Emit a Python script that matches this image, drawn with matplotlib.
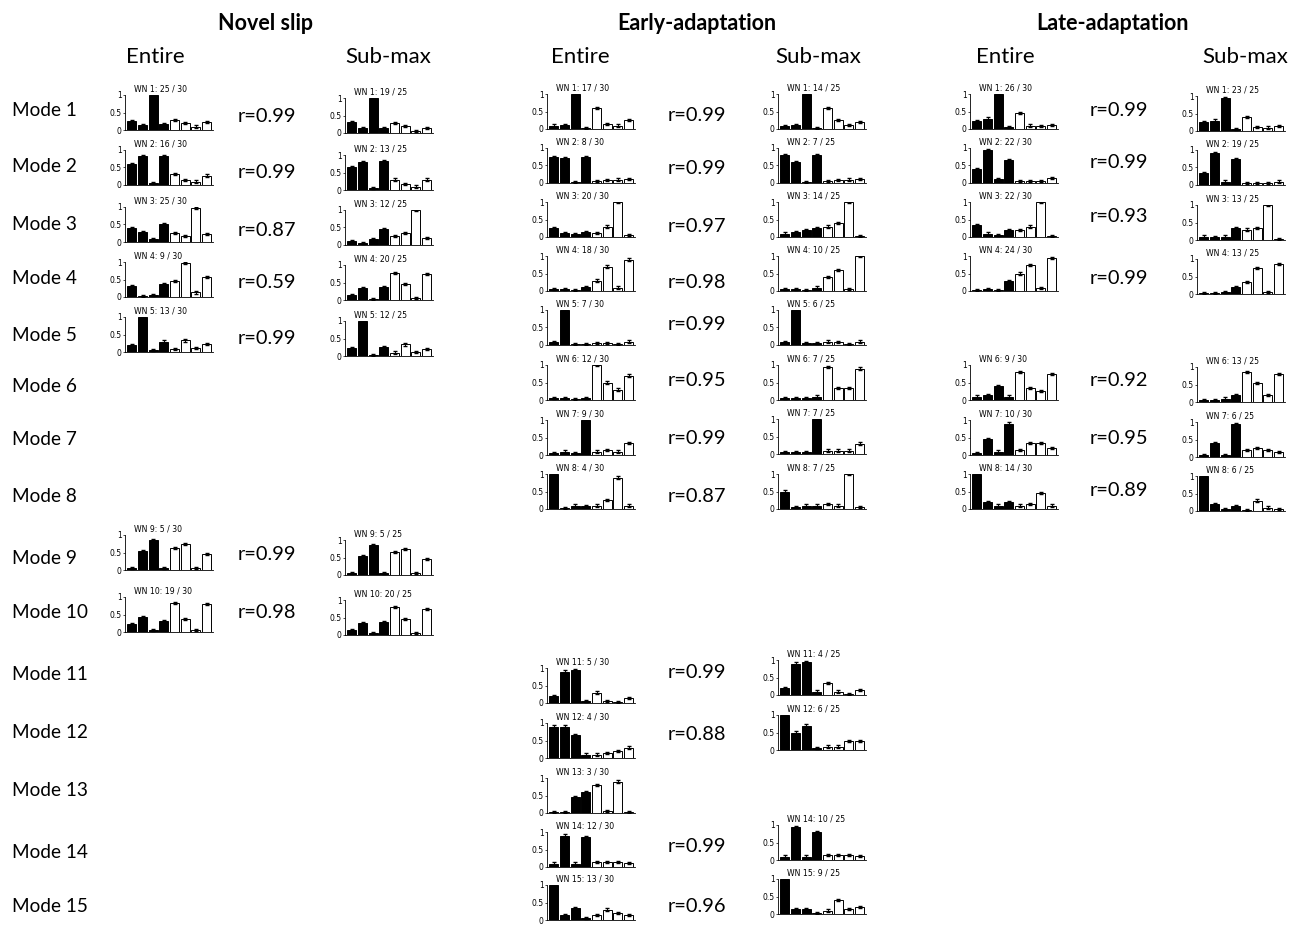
import numpy as np
import matplotlib
matplotlib.use("Agg")
import matplotlib.pyplot as plt

plt.rcParams['font.family'] = ['Lato', 'DejaVu Sans']

W, H = 1292, 925

# ---- data: mode number, "n / N" label, 8 bar heights (4 black, 4 white)
novel_modes = [1, 2, 3, 4, 5, 9, 10]
novel_r = [0.99, 0.99, 0.87, 0.59, 0.99, 0.99, 0.98]
novel_entire_n = ["25 / 30", "16 / 30", "25 / 30", "9 / 30", "13 / 30", "5 / 30", "19 / 30"]
novel_entire = [
    [0.27, 0.15, 1.00, 0.18, 0.28, 0.20, 0.10, 0.22],
    [0.60, 0.82, 0.05, 0.82, 0.32, 0.15, 0.10, 0.27],
    [0.40, 0.28, 0.08, 0.50, 0.25, 0.18, 0.97, 0.22],
    [0.32, 0.03, 0.07, 0.37, 0.47, 0.97, 0.13, 0.58],
    [0.20, 1.00, 0.06, 0.30, 0.08, 0.33, 0.12, 0.23],
    [0.05, 0.55, 0.85, 0.05, 0.62, 0.75, 0.07, 0.47],
    [0.22, 0.42, 0.05, 0.32, 0.82, 0.37, 0.05, 0.80],
]
novel_sub_n = ["19 / 25", "13 / 25", "12 / 25", "20 / 25", "12 / 25", "5 / 25", "20 / 25"]
novel_sub = [
    [0.32, 0.15, 1.00, 0.14, 0.28, 0.20, 0.06, 0.15],
    [0.65, 0.80, 0.05, 0.83, 0.30, 0.17, 0.10, 0.30],
    [0.12, 0.05, 0.17, 0.45, 0.25, 0.33, 1.00, 0.20],
    [0.15, 0.33, 0.04, 0.36, 0.78, 0.45, 0.05, 0.75],
    [0.22, 1.00, 0.04, 0.27, 0.10, 0.33, 0.12, 0.20],
    [0.05, 0.55, 0.85, 0.05, 0.65, 0.75, 0.07, 0.47],
    [0.15, 0.33, 0.05, 0.38, 0.80, 0.45, 0.05, 0.75],
]

early_entire_modes = [1, 2, 3, 4, 5, 6, 7, 8, 11, 12, 13, 14, 15]
early_entire_n = ["17 / 30", "8 / 30", "20 / 30", "18 / 30", "7 / 30", "12 / 30", "9 / 30",
                  "4 / 30", "5 / 30", "4 / 30", "3 / 30", "12 / 30", "13 / 30"]
early_entire = [
    [0.10, 0.12, 1.00, 0.03, 0.60, 0.15, 0.10, 0.25],
    [0.75, 0.70, 0.03, 0.75, 0.05, 0.08, 0.10, 0.12],
    [0.25, 0.12, 0.08, 0.15, 0.12, 0.30, 1.00, 0.05],
    [0.05, 0.05, 0.03, 0.12, 0.30, 0.70, 0.10, 0.90],
    [0.08, 1.00, 0.03, 0.02, 0.05, 0.05, 0.02, 0.10],
    [0.05, 0.05, 0.02, 0.05, 1.00, 0.50, 0.30, 0.70],
    [0.05, 0.10, 0.05, 1.00, 0.10, 0.15, 0.10, 0.35],
    [1.00, 0.02, 0.10, 0.08, 0.10, 0.25, 0.90, 0.10],
    [0.20, 0.90, 0.95, 0.05, 0.30, 0.05, 0.02, 0.15],
    [0.90, 0.90, 0.65, 0.10, 0.10, 0.15, 0.20, 0.30],
    [0.02, 0.02, 0.45, 0.60, 0.80, 0.05, 0.90, 0.02],
    [0.10, 0.90, 0.10, 0.85, 0.15, 0.15, 0.15, 0.12],
    [1.00, 0.15, 0.35, 0.05, 0.15, 0.30, 0.20, 0.15],
]
early_r_modes = [1, 2, 3, 4, 5, 6, 7, 8, 11, 12, 14, 15]
early_r = [0.99, 0.99, 0.97, 0.98, 0.99, 0.95, 0.99, 0.87, 0.99, 0.88, 0.99, 0.96]
early_sub_modes = [1, 2, 3, 4, 5, 6, 7, 8, 11, 12, 14, 15]
early_sub_n = ["14 / 25", "7 / 25", "14 / 25", "10 / 25", "6 / 25", "7 / 25", "7 / 25",
               "7 / 25", "4 / 25", "6 / 25", "10 / 25", "9 / 25"]
early_sub = [
    [0.08, 0.12, 1.00, 0.03, 0.60, 0.25, 0.12, 0.20],
    [0.80, 0.60, 0.03, 0.80, 0.05, 0.08, 0.10, 0.12],
    [0.10, 0.15, 0.20, 0.25, 0.30, 0.40, 1.00, 0.03],
    [0.05, 0.05, 0.03, 0.10, 0.40, 0.60, 0.05, 1.00],
    [0.08, 1.00, 0.05, 0.05, 0.10, 0.08, 0.03, 0.10],
    [0.05, 0.05, 0.05, 0.10, 0.95, 0.35, 0.35, 0.90],
    [0.05, 0.05, 0.05, 1.00, 0.10, 0.10, 0.10, 0.30],
    [0.50, 0.05, 0.10, 0.10, 0.15, 0.10, 1.00, 0.05],
    [0.20, 0.90, 0.95, 0.10, 0.35, 0.10, 0.03, 0.15],
    [1.00, 0.50, 0.70, 0.05, 0.10, 0.10, 0.25, 0.25],
    [0.10, 0.95, 0.10, 0.80, 0.15, 0.15, 0.15, 0.12],
    [1.00, 0.15, 0.15, 0.02, 0.10, 0.40, 0.15, 0.20],
]

late_modes = [1, 2, 3, 4, 6, 7, 8]
late_r = [0.99, 0.99, 0.93, 0.99, 0.92, 0.95, 0.89]
late_entire_n = ["26 / 30", "22 / 30", "22 / 30", "24 / 30", "9 / 30", "10 / 30", "14 / 30"]
late_entire = [
    [0.22, 0.30, 1.00, 0.05, 0.45, 0.10, 0.08, 0.12],
    [0.40, 0.95, 0.12, 0.65, 0.05, 0.05, 0.05, 0.15],
    [0.35, 0.10, 0.05, 0.20, 0.20, 0.30, 1.00, 0.03],
    [0.03, 0.05, 0.03, 0.28, 0.50, 0.75, 0.08, 0.95],
    [0.10, 0.15, 0.40, 0.10, 0.80, 0.35, 0.25, 0.75],
    [0.05, 0.45, 0.10, 0.90, 0.15, 0.35, 0.35, 0.20],
    [1.00, 0.20, 0.10, 0.20, 0.10, 0.15, 0.45, 0.10],
]
late_sub_n = ["23 / 25", "19 / 25", "13 / 25", "13 / 25", "13 / 25", "6 / 25", "6 / 25"]
late_sub = [
    [0.25, 0.30, 0.95, 0.05, 0.40, 0.12, 0.10, 0.15],
    [0.35, 0.90, 0.10, 0.75, 0.05, 0.05, 0.05, 0.10],
    [0.10, 0.08, 0.10, 0.35, 0.30, 0.35, 1.00, 0.03],
    [0.03, 0.03, 0.05, 0.20, 0.35, 0.75, 0.05, 0.85],
    [0.05, 0.05, 0.10, 0.20, 0.85, 0.55, 0.20, 0.80],
    [0.05, 0.40, 0.05, 0.95, 0.20, 0.25, 0.20, 0.15],
    [1.00, 0.20, 0.05, 0.15, 0.03, 0.30, 0.10, 0.05],
]

# ---- layout (pixels)
mode_y = {1: 111, 2: 167, 3: 224, 4: 279, 5: 335, 6: 387, 7: 439, 8: 497,
          9: 558, 10: 613, 11: 674, 12: 732, 13: 791, 14: 852, 15: 906}
AX_W, AX_H = 88, 35

fig = plt.figure(figsize=(W / 100, H / 100), dpi=100)


def px(x, y):
    return x / W, 1 - y / H


def mini(left, bottom, wn, label, vals):
    ax = fig.add_axes([left / W, 1 - bottom / H, AX_W / W, AX_H / H])
    x = np.arange(1, 9)
    colors = ['black'] * 4 + ['white'] * 4
    ax.bar(x, vals, width=0.85, color=colors, edgecolor='black', linewidth=0.7,
           yerr=0.03, error_kw=dict(ecolor='black', elinewidth=0.7, capsize=1.2))
    ax.set_xlim(0.35, 8.6)
    ax.set_ylim(0, 1)
    ax.set_yticks([0, 0.5, 1])
    ax.set_yticklabels(['0', '0.5', '1'], fontsize=5.5, family='DejaVu Sans')
    ax.set_xticks([])
    ax.tick_params(axis='y', length=1.5, width=0.5, pad=1)
    for s in ['top', 'right']:
        ax.spines[s].set_visible(False)
    ax.spines['left'].set_linewidth(0.6)
    ax.spines['bottom'].set_linewidth(0.6)
    ax.text(0.1, 1.03, f"WN {wn}: {label}", transform=ax.transAxes,
            fontsize=5.6, ha='left', va='bottom', family='DejaVu Sans')
    ax.patch.set_alpha(0)


# headers
for xc, t in [(265, "Novel slip"), (697, "Early-adaptation"), (1113, "Late-adaptation")]:
    fig.text(*px(xc, 23), t, fontsize=15.5, fontweight='bold', ha='center', va='center')
for xc, t in [(155, "Entire"), (388, "Sub-max"), (580, "Entire"), (818, "Sub-max"),
              (1005, "Entire"), (1245, "Sub-max")]:
    fig.text(*px(xc, 57), t, fontsize=16, ha='center', va='center')

for m, yc in mode_y.items():
    fig.text(*px(12, yc), f"Mode {m}", fontsize=13.7, ha='left', va='center')

# novel slip
novel_bot_e = [130, 185, 242, 297, 352, 570, 632]
novel_bot_s = [133, 190, 245, 300, 356, 575, 635]
novel_r_y = [116, 173, 230, 283, 339, 555, 613]
for i, m in enumerate(novel_modes):
    mini(125, novel_bot_e[i], m, novel_entire_n[i], novel_entire[i])
    mini(345, novel_bot_s[i], m, novel_sub_n[i], novel_sub[i])
    fig.text(*px(238, novel_r_y[i]), f"r={novel_r[i]:.2f}", fontsize=14.4, va='center')

# early adaptation
early_bot_e = [129, 183, 237, 291, 345, 400, 455, 509, 703, 758, 813, 867, 920]
for i, m in enumerate(early_entire_modes):
    mini(547, early_bot_e[i], m, early_entire_n[i], early_entire[i])
early_bot_s = [129, 183, 237, 291, 345, 400, 454, 509, 695, 750, 860, 914]
for i, m in enumerate(early_sub_modes):
    mini(778, early_bot_s[i], m, early_sub_n[i], early_sub[i])
early_r_y = [115, 169, 226, 282, 324, 380, 438, 497, 673, 734, 847, 906]
for i, m in enumerate(early_r_modes):
    fig.text(*px(668, early_r_y[i]), f"r={early_r[i]:.2f}", fontsize=14.4, va='center')

# late adaptation
late_bot_e = [129, 183, 237, 291, 400, 455, 509]
late_bot_s = [131, 185, 240, 294, 402, 457, 511]
late_r_y = [110, 162, 216, 278, 380, 438, 491]
for i, m in enumerate(late_modes):
    mini(970, late_bot_e[i], m, late_entire_n[i], late_entire[i])
    mini(1197, late_bot_s[i], m, late_sub_n[i], late_sub[i])
    fig.text(*px(1090, late_r_y[i]), f"r={late_r[i]:.2f}", fontsize=14.4, va='center')

fig.savefig("out.png", dpi=100, facecolor='white')
